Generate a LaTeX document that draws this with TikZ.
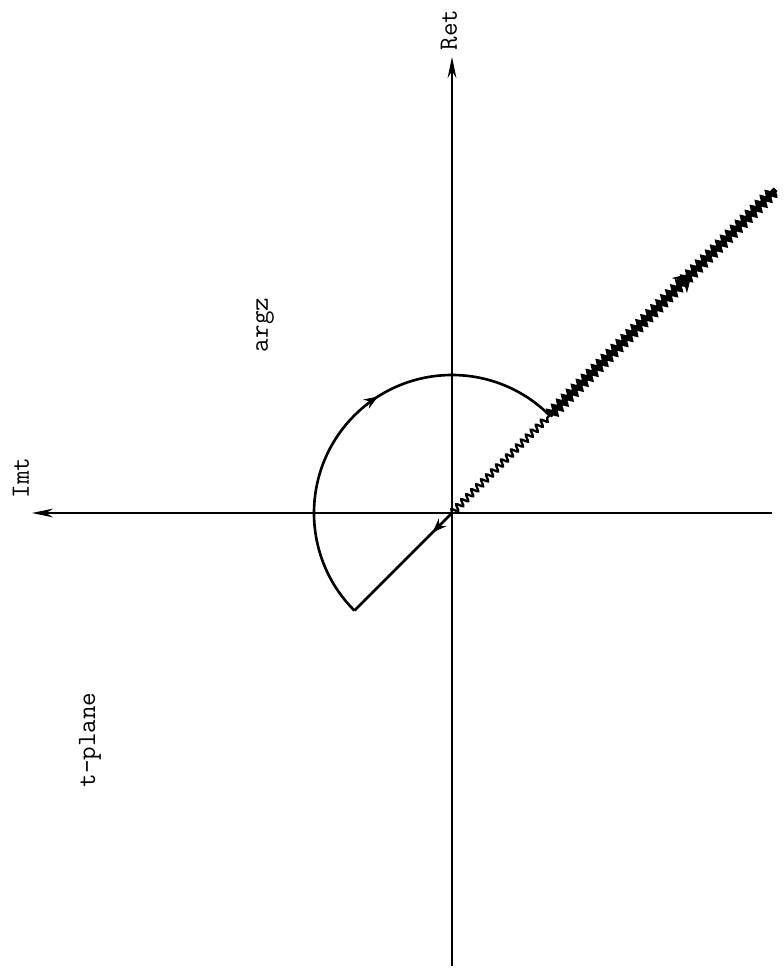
\documentclass[tikz,border=0pt]{standalone}
\usetikzlibrary{arrows.meta,decorations.pathmorphing,decorations.markings}

\tikzset{
  axisline/.style={line width=1.1pt, -{Stealth[length=12pt,width=5pt]}},
  contour/.style={line width=1.5pt},
  branchcut/.style={line width=1.3pt, decorate,
    decoration={snake, amplitude=1.8pt, segment length=4pt}},
  midarrow/.style={postaction={decorate}, decoration={markings,
    mark=at position #1 with {\arrow{Stealth[length=8pt,width=6pt]}}}},
  lbl/.style={font=\ttfamily\fontsize{15}{18}\selectfont, rotate=90},
}

\begin{document}
\begin{tikzpicture}
  \useasboundingbox (-9.04,-9.22) rectangle (6.64,10.26);

  % axes
  \coordinate (O) at (0,0);
  \coordinate (N) at (0,9.12);
  \coordinate (S) at (0,-9.06);
  \coordinate (W) at (-8.4,0);
  \coordinate (E) at (6.4,0);
  \draw[axisline] (S) -- (N);
  \draw[axisline] (E) -- (W);

  % contour points
  \coordinate (A) at (225:2.76);
  \coordinate (B) at (45:2.76);
  \coordinate (Far) at (45:9.15);

  % branch cut
  \draw[branchcut] (O) -- (B);
  \draw[branchcut, line width=2pt, decoration={amplitude=2.6pt}] (B) -- (Far);
  \draw[line width=3.2pt] (B) -- (Far);

  % contour
  \draw[contour, midarrow=0.2] (O) -- (A);
  \draw[contour, midarrow=0.57] (A) arc[start angle=225, end angle=45, radius=2.76];
  \draw[contour, postaction={decorate}, decoration={markings,
    mark=at position 0.63 with {\arrow{Stealth[length=10pt,width=12pt]}}}] (B) -- (Far);

  % labels
  \node[lbl] (ret) at (-0.06,9.66) {Ret};
  \node[lbl] (imt) at (-8.62,0.7) {Imt};
  \node[lbl] (arg) at (-3.74,3.76) {argz};
  \node[lbl] (tpl) at (-7.24,-4.54) {t-plane};
\end{tikzpicture}
\end{document}
